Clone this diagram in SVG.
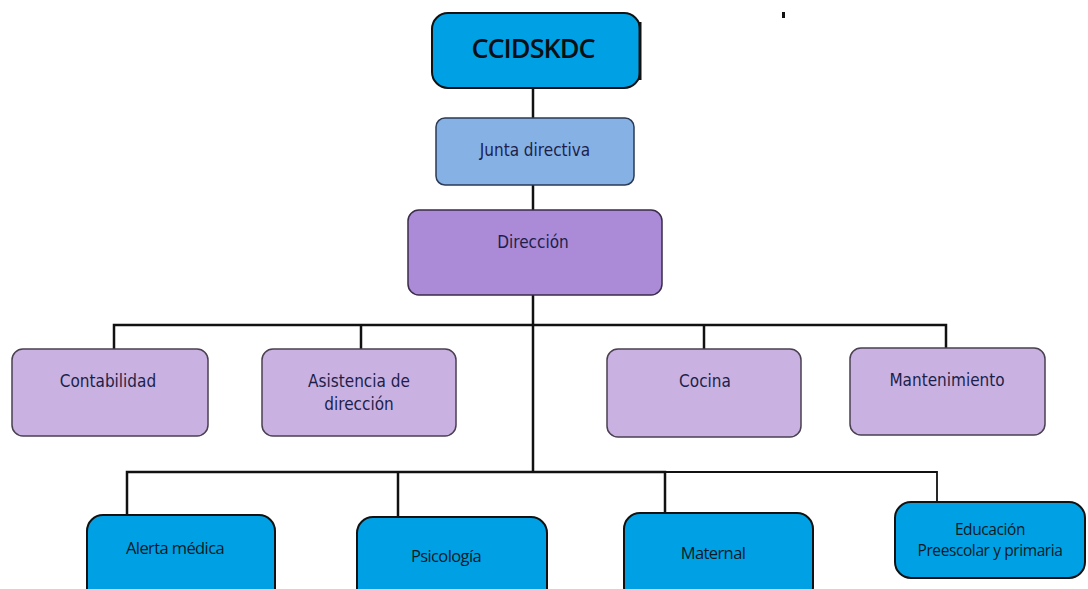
<svg xmlns="http://www.w3.org/2000/svg" width="1088" height="589" viewBox="0 0 1088 589">
<style>
.top{fill:#00a1e4;stroke:#111;stroke-width:2}
.junta{fill:#86b1e5;stroke:#2b3a55;stroke-width:1.5}
.dir{fill:#ab8bd8;stroke:#3a2d4a;stroke-width:1.5}
.dept{fill:#c9b2e2;stroke:#4a4050;stroke-width:1.5}
.blue{fill:#00a1e4;stroke:#111;stroke-width:2}
.t1{font-family:"DejaVu Sans Condensed","DejaVu Sans",sans-serif;font-size:17px;fill:#1d1f4a;text-anchor:middle}
.t2{font-family:"Open Sans","Liberation Sans",sans-serif;font-size:16.5px;fill:#0a1a24;text-anchor:middle;letter-spacing:-0.6px}
.t3{font-family:"Open Sans","Liberation Sans",sans-serif;font-size:15.5px;fill:#0a1a24;text-anchor:middle;letter-spacing:-0.4px}
.ttl{font-family:"Open Sans","Liberation Sans",sans-serif;font-size:27px;font-weight:600;fill:#0a0f14;text-anchor:middle;letter-spacing:-1px}
.ln{stroke:#111;stroke-width:2.5;fill:none}
</style>
<rect width="1088" height="589" fill="#fff"/>
<g id="connectors">
<line class="ln" x1="533" y1="88" x2="533" y2="118"/>
<line class="ln" x1="533" y1="185" x2="533" y2="210"/>
<line class="ln" x1="533" y1="295" x2="533" y2="472"/>
<polyline class="ln" points="114,350 114,325 946,325 946,349"/>
<line class="ln" x1="361" y1="325" x2="361" y2="350"/>
<line class="ln" x1="704" y1="325" x2="704" y2="350"/>
<polyline class="ln" points="127,516 127,472 665,472 665,514"/>
<line class="ln" x1="398" y1="472" x2="398" y2="518"/>
<polyline points="665,472 937,472 937,502" fill="none" stroke="#111" stroke-width="1.8"/>
</g>
<g id="ccidskdc">
<rect class="top" x="432" y="13" width="208" height="75" rx="16"/>
<line x1="640" y1="22" x2="640" y2="80" stroke="#111" stroke-width="3"/>
<text class="ttl" x="533" y="58">CCIDSKDC</text>
</g>
<g id="junta">
<rect class="junta" x="436" y="118" width="198" height="67" rx="9"/>
<text class="t1" x="535" y="156">Junta directiva</text>
</g>
<g id="direccion">
<rect class="dir" x="408" y="210" width="254" height="85" rx="11"/>
<text class="t1" x="533" y="248">Dirección</text>
</g>
<g id="contabilidad">
<rect class="dept" x="12" y="349" width="196" height="87" rx="11"/>
<text class="t1" x="108" y="387">Contabilidad</text>
</g>
<g id="asistencia">
<rect class="dept" x="262" y="349" width="194" height="87" rx="11"/>
<text class="t1" x="359" y="387">Asistencia de</text>
<text class="t1" x="359" y="410">dirección</text>
</g>
<g id="cocina">
<rect class="dept" x="607" y="349" width="194" height="88" rx="11"/>
<text class="t1" x="705" y="387">Cocina</text>
</g>
<g id="mantenimiento">
<rect class="dept" x="850" y="348" width="195" height="87" rx="11"/>
<text class="t1" x="947" y="386">Mantenimiento</text>
</g>
<g id="alerta">
<rect class="blue" x="87" y="515" width="188" height="90" rx="16"/>
<text class="t2" x="175" y="554">Alerta médica</text>
</g>
<g id="psicologia">
<rect class="blue" x="357" y="517" width="190" height="90" rx="16"/>
<text class="t2" x="446" y="562">Psicología</text>
</g>
<g id="maternal">
<rect class="blue" x="624" y="513" width="189" height="90" rx="16"/>
<text class="t2" x="713" y="559">Maternal</text>
</g>
<g id="educacion">
<rect class="blue" x="895" y="502" width="190" height="76" rx="16"/>
<text class="t3" x="990" y="535">Educación</text>
<text class="t3" x="990" y="556">Preescolar y primaria</text>
</g>
<rect x="782" y="12" width="3" height="6" fill="#111"/>
</svg>
